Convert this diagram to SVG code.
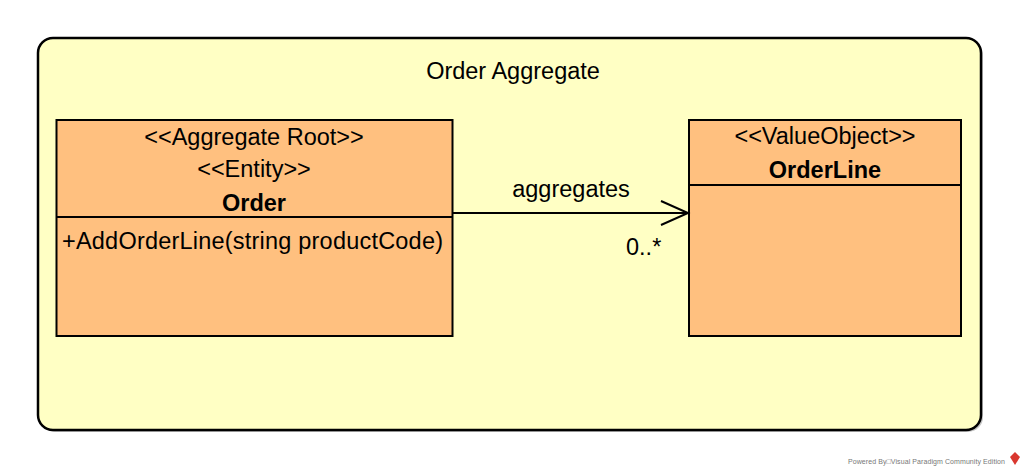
<svg xmlns="http://www.w3.org/2000/svg" width="1024" height="472" viewBox="0 0 1024 472">
<defs>
<style>
text{font-family:"Liberation Sans",Arial,sans-serif;fill:#000}
.t{font-size:23.5px}
.b{font-size:23.5px;font-weight:bold}
.cls{fill:#FFC07F;stroke:#000;stroke-width:2}
.ln{stroke:#000;stroke-width:2;fill:none}
</style>
</defs>
<rect width="1024" height="472" fill="#fff"/>
<g id="container">
<rect x="40" y="40" width="943" height="392" rx="15" fill="#555" opacity="0.35"/>
<rect x="38" y="38" width="943" height="392" rx="15" fill="#FFFFC4" stroke="#000" stroke-width="2.5"/>
<text class="t" x="513" y="79" text-anchor="middle">Order Aggregate</text>
</g>
<g id="order">
<rect class="cls" x="56.5" y="120" width="396" height="216"/>
<line class="ln" x1="56.5" y1="217" x2="452.5" y2="217"/>
<text class="t" x="254" y="145" text-anchor="middle">&lt;&lt;Aggregate Root&gt;&gt;</text>
<text class="t" x="254" y="177" text-anchor="middle">&lt;&lt;Entity&gt;&gt;</text>
<text class="b" x="254" y="211" text-anchor="middle">Order</text>
<text class="t" x="62" y="249" textLength="381">+AddOrderLine(string productCode)</text>
</g>
<g id="orderline">
<rect class="cls" x="689" y="120" width="272" height="216"/>
<line class="ln" x1="689" y1="185" x2="961" y2="185"/>
<text class="t" x="825" y="144" text-anchor="middle">&lt;&lt;ValueObject&gt;&gt;</text>
<text class="b" x="825" y="178" text-anchor="middle">OrderLine</text>
</g>
<g id="connectors">
<line class="ln" x1="453" y1="213" x2="688" y2="213"/>
<polyline class="ln" points="661,201 688,213 661,225"/>
<text class="t" x="571" y="197" text-anchor="middle">aggregates</text>
<text class="t" x="626" y="255">0..*</text>
</g>
<g id="footer">
<text x="848" y="464" textLength="157" style="font-size:7px;fill:#777">Powered By□Visual Paradigm Community Edition</text>
<polygon points="1015,452 1020,457 1015,465 1010,457" fill="#d9372f"/>
</g>
</svg>
